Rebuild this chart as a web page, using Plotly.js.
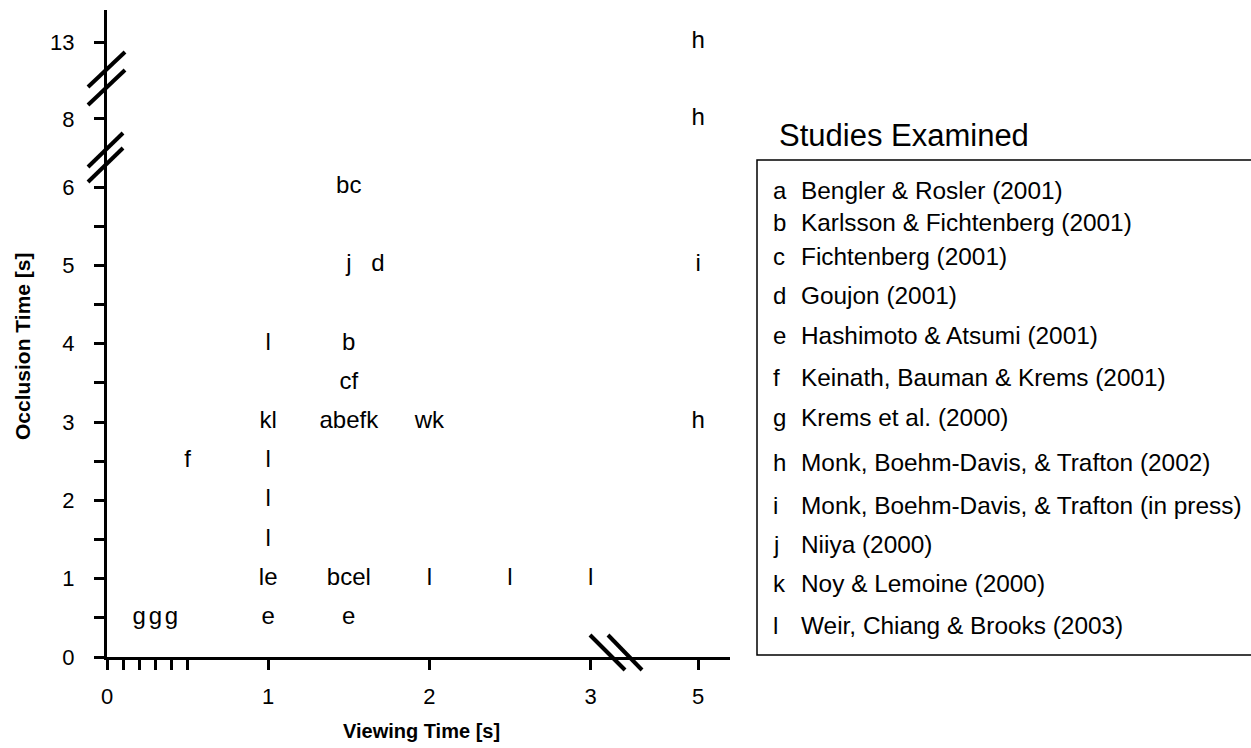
<!DOCTYPE html>
<html>
<head>
<meta charset="utf-8">
<script src="https://cdn.plot.ly/plotly-3.0.1.min.js"></script>
<style>
  html, body { margin: 0; padding: 0; background: #fff; }
  #chart { width: 1251px; height: 748px; }
</style>
</head>
<body>
<div id="chart"></div>
<script>
// ---------- DATA ----------
const studyLabels   = ['h','h','bc','j','d','i','l','b','cf','kl','abefk','wk','h','f','l','l','l','le','bcel','l','l','l','g','g','g','e','e'];
const viewingTime   = [5, 5, 1.5, 1.5, 1.68, 5, 1, 1.5, 1.5, 1, 1.5, 2, 5, 0.5, 1, 1, 1, 1, 1.5, 2, 2.5, 3, 0.2, 0.3, 0.4, 1, 1.5];
const occlusionTime = [13, 8, 6, 5, 5, 5, 4, 4, 3.5, 3, 3, 3, 3, 2.5, 2.5, 2, 1.5, 1, 1, 1, 1, 1, 0.5, 0.5, 0.5, 0.5, 0.5];

const xTickValues = [0, 0.1, 0.2, 0.3, 0.4, 0.5, 1, 2, 3, 5];
const xTickLabels = ['0', '', '', '', '', '', '1', '2', '3', '5'];
const yTickValues = [0, 0.5, 1, 1.5, 2, 2.5, 3, 3.5, 4, 4.5, 5, 5.5, 6, 8, 13];
const yTickLabels = ['0', '', '1', '', '2', '', '3', '', '4', '', '5', '', '6', '8', '13'];

const legendLetters = ['a','b','c','d','e','f','g','h','i','j','k','l'];
const legendStudies = [
  'Bengler & Rosler (2001)',
  'Karlsson & Fichtenberg (2001)',
  'Fichtenberg (2001)',
  'Goujon (2001)',
  'Hashimoto & Atsumi (2001)',
  'Keinath, Bauman & Krems (2001)',
  'Krems et al. (2000)',
  'Monk, Boehm-Davis, & Trafton (2002)',
  'Monk, Boehm-Davis, & Trafton (in press)',
  'Niiya (2000)',
  'Noy & Lemoine (2000)',
  'Weir, Chiang & Brooks (2003)'
];
const legendTitle = 'Studies Examined';
const xTitle = 'Viewing Time [s]';
const yTitle = 'Occlusion Time [s]';

// ---------- BROKEN-AXIS MAPPING ----------
// x: linear up to 3 s, then compressed (3 -> 5 s squeezed to 2/3 unit)
function xDisp(v) { return v <= 3 ? v : 3 + (v - 3) / 3; }
// y: linear up to 6 s, then two breaks (6..8, 8..13)
function yDisp(v) {
  if (v <= 6) return v;
  if (v <= 8) return 6 + (v - 6) * 0.435;
  return 6.87 + (v - 8) * 0.196;
}

// ---------- GEOMETRY ----------
const W = 1251, H = 748;
const M = { l: 107, r: 521, t: 10, b: 91 };
const PW = W - M.l - M.r, PH = H - M.t - M.b;
const xRange = [0, PW / 161.2];
const yRange = [0, PH / 78.33];
const FONT = 'Liberation Sans, Arial, Helvetica, sans-serif';
function px(p) { return (p - M.l) / PW; }        // pixel x -> paper x
function py(p) { return (H - M.b - p) / PH; }    // pixel y -> paper y

const trace = {
  type: 'scatter',
  mode: 'text',
  x: viewingTime.map(xDisp),
  y: occlusionTime.map(yDisp),
  text: studyLabels,
  textposition: 'middle center',
  textfont: { family: FONT, size: 24, color: '#000' },
  hoverinfo: 'skip',
  showlegend: false,
  cliponaxis: false
};

// break marks (double slashes)
const breakLines = [
  [88, 87, 125, 52], [88, 105, 125, 70],
  [88, 167, 123, 133], [88, 182, 123, 148],
  [590, 635, 625, 670], [608, 635, 642, 670]
];
const shapes = breakLines.map(b => ({
  type: 'line', xref: 'paper', yref: 'paper',
  x0: px(b[0]), y0: py(b[1]), x1: px(b[2]), y1: py(b[3]),
  line: { color: '#000', width: 4 }, layer: 'above'
}));
// legend box
shapes.push({
  type: 'rect', xref: 'paper', yref: 'paper',
  x0: px(757), y0: py(655), x1: px(1262), y1: py(160),
  line: { color: '#000', width: 1.5 }, fillcolor: 'rgba(0,0,0,0)'
});

const legendRowY = [190, 222, 256, 296, 335, 377, 417, 462, 505, 544, 583, 625];
const annotations = [];
legendLetters.forEach((l, i) => {
  annotations.push({
    xref: 'paper', yref: 'paper', x: px(771), y: py(legendRowY[i]),
    xanchor: 'left', yanchor: 'middle', showarrow: false, text: l,
    font: { family: FONT, size: 24, color: '#000' }
  });
  annotations.push({
    xref: 'paper', yref: 'paper', x: px(799), y: py(legendRowY[i]),
    xanchor: 'left', yanchor: 'middle', showarrow: false, text: legendStudies[i],
    font: { family: FONT, size: 24.4, color: '#000' }
  });
});
annotations.push({
  xref: 'paper', yref: 'paper', x: px(777), y: py(135),
  xanchor: 'left', yanchor: 'middle', showarrow: false, text: legendTitle,
  font: { family: FONT, size: 31, color: '#000' }
});
annotations.push({
  xref: 'paper', yref: 'paper', x: px(421), y: py(731),
  xanchor: 'center', yanchor: 'middle', showarrow: false, text: '<b>' + xTitle + '</b>',
  font: { family: FONT, size: 20, color: '#000' }
});
annotations.push({
  xref: 'paper', yref: 'paper', x: px(22), y: py(346),
  xanchor: 'center', yanchor: 'middle', showarrow: false, textangle: -90, text: '<b>' + yTitle + '</b>',
  font: { family: FONT, size: 21, color: '#000' }
});

const layout = {
  width: W, height: H,
  margin: M,
  paper_bgcolor: '#fff', plot_bgcolor: '#fff',
  showlegend: false,
  xaxis: {
    range: xRange, showgrid: false, zeroline: false,
    showline: true, linewidth: 3, linecolor: '#000',
    ticks: 'outside', ticklen: 10, tickwidth: 3, tickcolor: '#000',
    tickmode: 'array', tickvals: xTickValues.map(xDisp), ticktext: xTickLabels,
    tickfont: { family: FONT, size: 22, color: '#000' },
    ticklabelstandoff: 8, fixedrange: true
  },
  yaxis: {
    range: yRange, showgrid: false, zeroline: false,
    showline: true, linewidth: 3, linecolor: '#000',
    ticks: 'outside', ticklen: 10, tickwidth: 3, tickcolor: '#000',
    tickmode: 'array', tickvals: yTickValues.map(yDisp), ticktext: yTickLabels,
    tickfont: { family: FONT, size: 22, color: '#000' },
    ticklabelstandoff: 15, fixedrange: true
  },
  shapes: shapes,
  annotations: annotations
};

Plotly.newPlot('chart', [trace], layout, { staticPlot: true, displayModeBar: false });
</script>
</body>
</html>
